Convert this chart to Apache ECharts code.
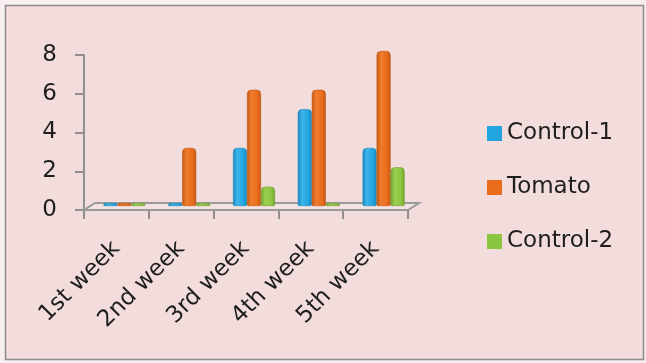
<!DOCTYPE html>
<html>
<head>
<meta charset="utf-8">
<script src="https://cdn.jsdelivr.net/npm/echarts@6/dist/echarts.min.js"></script>
<style>
  html, body { margin: 0; padding: 0; background: #f7efef; }
  #chart { width: 646px; height: 363px; }
</style>
</head>
<body>
<div id="chart"></div>
<script>
// Weekly counts per treatment
const categories = ['1st week', '2nd week', '3rd week', '4th week', '5th week'];
const control1 = [0, 0, 3, 5, 3];
const tomato = [0, 3, 6, 6, 8];
const control2 = [0, 0, 1, 0, 2];
const yMin = 0, yMax = 8, yStep = 2;

const FONT = 'DejaVu Sans';
const palette = {
  'Control-1': { base: '#22a5df', light: '#3db5ea', dark: '#1786bd' },
  'Tomato':    { base: '#e96c1c', light: '#f07d2c', dark: '#bf5712' },
  'Control-2': { base: '#8cc540', light: '#9bd052', dark: '#6fa02e' }
};

// cylinder-like shading across each column
function shade(name) {
  const c = palette[name];
  return {
    type: 'linear', x: 0, y: 0, x2: 1, y2: 0,
    colorStops: [
      { offset: 0, color: c.dark },
      { offset: 0.3, color: c.light },
      { offset: 0.75, color: c.base },
      { offset: 1, color: c.dark }
    ]
  };
}

function barSeries(name, values) {
  return {
    name: name,
    type: 'bar',
    xAxisIndex: 1,
    yAxisIndex: 1,
    data: values,
    barWidth: 14,
    barGap: '0%',
    barMinHeight: 3,
    z: 3,
    itemStyle: {
      color: shade(name),
      borderColor: palette[name].dark,
      borderWidth: 0.6,
      borderRadius: [4, 4, 1, 1]
    }
  };
}

// floor of the plot, drawn from the category/value scales
const floorDepth = [11, -7];
const floorSeries = {
  type: 'custom',
  xAxisIndex: 0,
  yAxisIndex: 0,
  silent: true,
  z: 1,
  data: [[0, yMin]],
  renderItem: function (params, api) {
    const p = api.coord([0, yMin]);
    const bw = api.size([1, 0])[0];
    const x0 = p[0] - bw / 2;
    const x1 = x0 + bw * categories.length;
    const y = p[1];
    return {
      type: 'polygon',
      shape: {
        points: [
          [x0, y], [x1, y],
          [x1 + floorDepth[0], y + floorDepth[1]],
          [x0 + floorDepth[0], y + floorDepth[1]]
        ]
      },
      style: { fill: 'rgba(255,255,255,0.18)', stroke: '#9a9a9a', lineWidth: 2 }
    };
  }
};

const chart = echarts.init(document.getElementById('chart'));
chart.setOption({
  backgroundColor: '#f7efef',
  animation: false,
  textStyle: { fontFamily: FONT },
  graphic: [{
    type: 'rect',
    z: -10,
    silent: true,
    shape: { x: 5.5, y: 5.5, width: 638, height: 354 },
    style: { fill: '#f2dcdc', stroke: '#8c8c8c', lineWidth: 1.5 }
  }],
  grid: [
    { left: 84, top: 55, width: 324, height: 155, outerBoundsMode: 'none', containLabel: false },
    { left: 92, top: 51, width: 324, height: 155, outerBoundsMode: 'none', containLabel: false }
  ],
  legend: {
    orient: 'vertical',
    left: 482,
    top: 117,
    itemWidth: 15,
    itemHeight: 15,
    itemGap: 31,
    icon: 'rect',
    textStyle: { fontFamily: FONT, fontSize: 23, color: '#1e1e1e' },
    data: ['Control-1', 'Tomato', 'Control-2'].map(function (n) {
      return { name: n, itemStyle: { color: palette[n].base, borderWidth: 0 } };
    })
  },
  xAxis: [
    {
      type: 'category',
      gridIndex: 0,
      data: categories,
      axisLine: { show: true, lineStyle: { color: '#8f8f8f', width: 2 } },
      axisTick: { show: true, length: 9, alignWithLabel: false, lineStyle: { color: '#8f8f8f', width: 2 } },
      axisLabel: { rotate: 45, margin: 35, fontSize: 23, color: '#1e1e1e', fontFamily: FONT, interval: 0 },
      splitLine: { show: false }
    },
    {
      type: 'category',
      gridIndex: 1,
      data: categories,
      show: false
    }
  ],
  yAxis: [
    {
      type: 'value',
      gridIndex: 0,
      min: yMin,
      max: yMax,
      interval: yStep,
      axisLine: { show: true, lineStyle: { color: '#8f8f8f', width: 2 } },
      axisTick: { show: true, length: 9, lineStyle: { color: '#8f8f8f', width: 2 } },
      axisLabel: { margin: 27, fontSize: 23, color: '#1e1e1e', fontFamily: FONT },
      splitLine: { show: false }
    },
    {
      type: 'value',
      gridIndex: 1,
      min: yMin,
      max: yMax,
      interval: yStep,
      show: false
    }
  ],
  series: [
    floorSeries,
    barSeries('Control-1', control1),
    barSeries('Tomato', tomato),
    barSeries('Control-2', control2)
  ]
});
</script>
</body>
</html>
